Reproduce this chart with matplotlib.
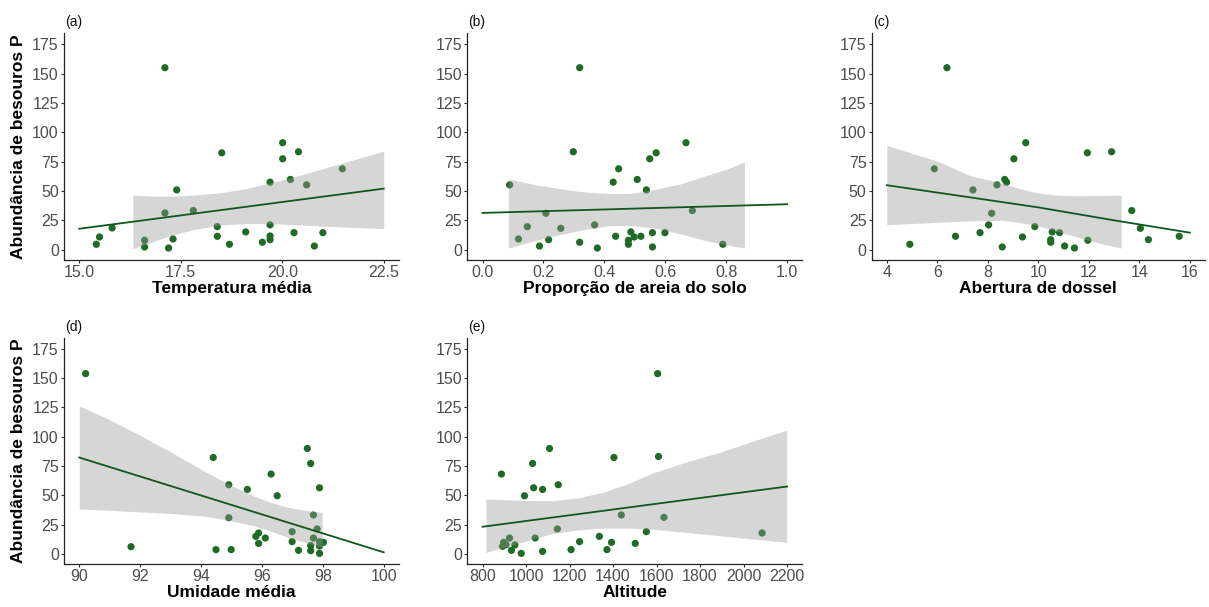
import matplotlib
matplotlib.use("Agg")
import matplotlib.pyplot as plt
from matplotlib.ticker import FixedLocator

plt.rcParams['font.family'] = ['Liberation Sans', 'DejaVu Sans']

# ---------------- data ----------------
abund_label = "Abundância de besouros P"

# (a) Temperatura média
temp_x = [15.42, 15.50, 15.81, 16.61, 16.61, 17.11, 17.11, 17.20, 17.31, 17.40,
          17.81, 18.40, 18.40, 18.51, 18.70, 19.10, 19.51, 19.70, 19.70, 19.70,
          19.70, 20.01, 20.01, 20.20, 20.29, 20.40, 20.60, 20.79, 21.00, 21.48]
temp_y = [4.6, 10.8, 18.5, 8.0, 2.3, 155, 31.3, 1.4, 9.1, 50.9,
          33.3, 19.6, 11.4, 82.5, 4.6, 15.1, 6.3, 21.1, 57.5, 11.7,
          8.5, 91.1, 77.4, 59.8, 14.5, 83.4, 55.2, 3.1, 14.5, 68.9]
temp_line_x = [15.0, 22.5]
temp_line_y = [17.8, 52.0]
temp_band_x = [16.32, 16.8, 17.24, 17.8, 18.47, 19.1, 19.70, 20.3, 20.93, 21.7, 22.5]
temp_band_hi = [46.4, 45.7, 45.5, 46.5, 48.4, 52.0, 56.9, 62.0, 68.3, 76.0, 83.9]
temp_band_lo = [0.9, 6.5, 12.0, 17.0, 21.0, 22.3, 22.2, 21.3, 20.2, 19.0, 17.9]

# (b) Proporção de areia do solo
sand_x = [0.089, 0.118, 0.147, 0.187, 0.208, 0.217, 0.257, 0.298, 0.319, 0.319,
          0.368, 0.377, 0.429, 0.437, 0.447, 0.479, 0.479, 0.487, 0.498, 0.508,
          0.520, 0.538, 0.549, 0.558, 0.558, 0.570, 0.599, 0.668, 0.689, 0.789]
sand_y = [55.2, 9.1, 19.6, 3.1, 31.0, 8.5, 18.2, 83.4, 155, 6.3,
          21.1, 1.4, 57.5, 11.4, 68.9, 8.0, 4.6, 15.1, 10.8, 59.8,
          11.4, 50.9, 77.4, 14.5, 2.3, 82.5, 14.5, 91.1, 33.3, 4.6]
sand_line_x = [0.0, 1.0]
sand_line_y = [31.3, 38.7]
sand_band_x = [0.085, 0.17, 0.257, 0.34, 0.42, 0.49, 0.564, 0.65, 0.728, 0.80, 0.86]
sand_band_hi = [60.3, 55.5, 51.8, 49.0, 47.8, 48.0, 51.2, 56.0, 62.6, 68.5, 74.6]
sand_band_lo = [1.4, 7.5, 13.0, 17.5, 20.5, 20.5, 18.5, 13.5, 8.0, 4.2, 1.4]

# (c) Abertura de dossel
canopy_x = [4.91, 5.88, 6.38, 6.72, 7.41, 7.69, 8.03, 8.15, 8.36, 8.57,
            8.67, 8.74, 9.03, 9.37, 9.50, 9.86, 10.49, 10.49, 10.55, 10.84,
            11.04, 11.43, 11.94, 11.96, 12.90, 13.70, 14.04, 14.36, 15.58]
canopy_y = [4.6, 68.9, 155, 11.4, 50.9, 14.5, 21.1, 31.0, 55.2, 2.3,
            59.8, 57.5, 77.4, 10.8, 91.1, 19.6, 8.5, 6.3, 15.1, 14.5,
            3.1, 1.4, 82.5, 8.0, 83.4, 33.3, 18.2, 8.5, 11.4]
canopy_line_x = [4, 7, 10, 13, 16]
canopy_line_y = [54.9, 45.5, 36.0, 25.0, 14.5]
canopy_band_x = [4.0, 6.0, 7.31, 8.62, 9.28, 9.93, 10.6, 11.24, 11.9, 12.55, 13.28]
canopy_band_hi = [88.8, 75.4, 63.0, 56.5, 52.0, 48.5, 46.6, 46.0, 46.0, 46.2, 46.4]
canopy_band_lo = [21.3, 23.3, 24.5, 25.0, 23.0, 20.8, 16.5, 12.5, 8.5, 4.8, 1.4]

# (d) Umidade média
humid_x = [90.21, 91.70, 94.40, 94.91, 94.91, 94.49, 94.99, 95.52, 95.80, 95.89,
           95.89, 96.11, 96.30, 96.50, 96.99, 96.99, 97.20, 97.49, 97.60, 97.60,
           97.60, 97.69, 97.69, 97.81, 97.89, 97.89, 97.89, 97.89, 98.02]
humid_y = [153.7, 6.2, 82.2, 59.0, 30.9, 3.7, 3.7, 55.0, 15.0, 17.9,
           9.0, 13.6, 68.1, 49.6, 19.0, 10.5, 3.1, 89.9, 77.1, 7.1,
           2.8, 33.2, 13.6, 21.3, 56.4, 10.5, 6.8, 0.5, 9.9]
humid_line_x = [90, 100]
humid_line_y = [82.2, 1.4]
humid_band_x = [90.0, 91.0, 91.89, 93.0, 94.08, 94.9, 95.72, 96.3, 96.81, 97.4, 97.98]
humid_band_hi = [126.2, 114.5, 102.6, 87.0, 71.0, 59.5, 49.6, 43.8, 39.9, 37.2, 35.4]
humid_band_lo = [38.3, 37.2, 36.0, 34.5, 32.3, 28.8, 24.1, 19.5, 14.5, 10.0, 5.6]

# (e) Altitude
alt_x = [887, 897, 892, 924, 908, 933, 949, 978, 993, 1030,
         1035, 1042, 1076, 1076, 1108, 1148, 1144, 1207, 1246, 1337,
         1372, 1393, 1404, 1438, 1502, 1553, 1605, 1609, 1634, 2085]
alt_y = [68.1, 9.9, 6.5, 13.6, 7.9, 3.1, 7.7, 0.5, 49.6, 77.1,
         56.4, 13.6, 55.0, 2.2, 89.9, 59.0, 21.3, 3.7, 10.5, 15.0,
         3.7, 9.9, 82.2, 33.2, 9.0, 19.0, 153.7, 83.1, 31.2, 17.9]
alt_line_x = [800, 2200]
alt_line_y = [23.2, 57.5]
alt_band_x = [815.6, 1000, 1122, 1240, 1352, 1470, 1582, 1730, 1889, 2040, 2198]
alt_band_hi = [46.8, 45.6, 45.4, 47.8, 52.5, 60.0, 69.0, 78.0, 86.5, 96.0, 105.5]
alt_band_lo = [1.4, 11.0, 17.5, 20.5, 22.0, 22.0, 21.0, 18.5, 15.6, 12.8, 9.9]

y_ticks = [0, 25, 50, 75, 100, 125, 150, 175]

# ---------------- layout ----------------
W, H = 1209, 607
fig = plt.figure(figsize=(W / 100, H / 100), dpi=100)
fig.patch.set_facecolor('white')

col_lr = [(64, 399), (467.3, 802.3), (871.7, 1205)]
row_tb = [(33.3, 260), (337.7, 564.3)]

PT_COL = '#1f6b25'
LINE_COL = '#11561a'
BAND_COL = '#999999'
TICK_COL = '#4d4d4d'

panels = [
    dict(x=temp_x, y=temp_y, lx=temp_line_x, ly=temp_line_y, bx=temp_band_x,
         bhi=temp_band_hi, blo=temp_band_lo, xlim=(14.625, 22.875),
         xt=[15.0, 17.5, 20.0, 22.5], fmt='{:.1f}', xlabel='Temperatura média',
         tag='(a)', pos=(0, 0), ylab=True),
    dict(x=sand_x, y=sand_y, lx=sand_line_x, ly=sand_line_y, bx=sand_band_x,
         bhi=sand_band_hi, blo=sand_band_lo, xlim=(-0.05, 1.05),
         xt=[0.0, 0.2, 0.4, 0.6, 0.8, 1.0], fmt='{:.1f}',
         xlabel='Proporção de areia do solo', tag='(b)', pos=(0, 1), ylab=False),
    dict(x=canopy_x, y=canopy_y, lx=canopy_line_x, ly=canopy_line_y, bx=canopy_band_x,
         bhi=canopy_band_hi, blo=canopy_band_lo, xlim=(3.4, 16.6),
         xt=[4, 6, 8, 10, 12, 14, 16], fmt='{:d}', xlabel='Abertura de dossel',
         tag='(c)', pos=(0, 2), ylab=False),
    dict(x=humid_x, y=humid_y, lx=humid_line_x, ly=humid_line_y, bx=humid_band_x,
         bhi=humid_band_hi, blo=humid_band_lo, xlim=(89.5, 100.5),
         xt=[90, 92, 94, 96, 98, 100], fmt='{:d}', xlabel='Umidade média',
         tag='(d)', pos=(1, 0), ylab=True),
    dict(x=alt_x, y=alt_y, lx=alt_line_x, ly=alt_line_y, bx=alt_band_x,
         bhi=alt_band_hi, blo=alt_band_lo, xlim=(730, 2270),
         xt=[800, 1000, 1200, 1400, 1600, 1800, 2000, 2200], fmt='{:d}',
         xlabel='Altitude', tag='(e)', pos=(1, 1), ylab=False),
]

for p in panels:
    r, c = p['pos']
    l, rr = col_lr[c]
    t, b = row_tb[r]
    ax = fig.add_axes([l / W, 1 - b / H, (rr - l) / W, (b - t) / H])
    ax.set_facecolor('white')

    ax.scatter(p['x'], p['y'], s=27, color=PT_COL, edgecolors='none', zorder=2)
    ax.fill_between(p['bx'], p['blo'], p['bhi'], color=BAND_COL, alpha=0.4,
                    linewidth=0, zorder=3)
    ax.plot(p['lx'], p['ly'], color=LINE_COL, linewidth=1.3, zorder=4)

    ax.set_xlim(*p['xlim'])
    ax.set_ylim(-8.8, 184.3)
    ax.xaxis.set_major_locator(FixedLocator(p['xt']))
    ax.set_xticklabels([p['fmt'].format(int(v) if p['fmt'] == '{:d}' else v)
                        for v in p['xt']])
    ax.yaxis.set_major_locator(FixedLocator(y_ticks))
    ax.set_yticklabels([str(v) for v in y_ticks])

    for side in ('top', 'right'):
        ax.spines[side].set_visible(False)
    for side in ('left', 'bottom'):
        ax.spines[side].set_linewidth(0.9)
        ax.spines[side].set_color('#222222')
    ax.tick_params(axis='both', length=2.5, width=0.8, color='#333333',
                   labelcolor=TICK_COL, labelsize=11.5, pad=1.2)

    # x title
    fig.text((l + rr) / 2 / W, 1 - (b + 33) / H, p['xlabel'], ha='center',
             va='baseline', fontsize=12.5, fontweight='bold', color='black')
    # panel tag
    fig.text((l + 1) / W, 1 - (t - 11) / H, p['tag'], ha='left', va='center',
             fontsize=10, color='#111111')
    # y title
    if p['ylab']:
        fig.text(18.5 / W, 1 - ((t + b) / 2) / H, abund_label, rotation=90,
                 ha='center', va='center', fontsize=12.5, fontweight='bold',
                 color='black')

fig.savefig('out.png', dpi=100, facecolor='white')
